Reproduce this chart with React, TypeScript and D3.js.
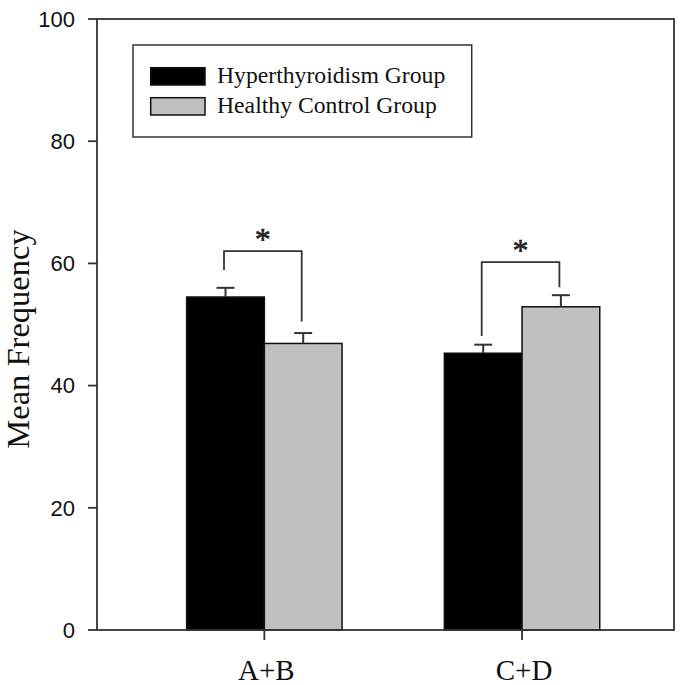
import React from "react";
import * as d3 from "d3";

const categories = ["A+B", "C+D"];
const seriesNames = ["Hyperthyroidism Group", "Healthy Control Group"];
const hyperMeans = [54.5, 45.3];
const hyperErrTop = [56.0, 46.7];
const controlMeans = [46.9, 52.9];
const controlErrTop = [48.6, 54.8];
const yTicks = [0, 20, 40, 60, 80, 100];
const bracketTop = [62.0, 60.2];
const bracketLeftFoot = [58.9, 48.1];
const bracketRightFoot = [50.5, 56.1];
const sigLabels = ["*", "*"];

const W = 682;
const H = 685;
const left = 97;
const right = 674;
const top = 19;
const bottom = 630;
const colors = ["#000000", "#c0c0c0"];

export default function App() {
  const y = d3.scaleLinear().domain([0, 100]).range([bottom, top]);
  const x = d3
    .scaleBand<string>()
    .domain(categories)
    .range([left, right])
    .paddingInner(0.397)
    .paddingOuter(0.318)
    .align(0.547);
  const xs = d3.scaleBand<string>().domain(seriesNames).range([0, x.bandwidth()]);
  const means = [hyperMeans, controlMeans];
  const errs = [hyperErrTop, controlErrTop];
  const serif = "'Liberation Serif', 'Times New Roman', serif";
  const sans = "'Liberation Sans', Arial, sans-serif";
  const stroke = "#333";

  return (
    <svg
      width={W}
      height={H}
      style={{ position: "absolute", left: 0, top: 0, background: "#fff" }}
    >
      <rect x={0} y={0} width={W} height={H} fill="#fff" />
      {/* bars */}
      {categories.map((c, ci) =>
        seriesNames.map((s, si) => {
          const x0 = (x(c) as number) + (xs(s) as number);
          const v = means[si][ci];
          return (
            <rect
              key={c + s}
              x={x0}
              y={y(v)}
              width={xs.bandwidth()}
              height={y(0) - y(v)}
              fill={colors[si]}
              stroke="#111"
              strokeWidth={1.5}
            />
          );
        })
      )}
      {/* error bars */}
      {categories.map((c, ci) =>
        seriesNames.map((s, si) => {
          const cx = (x(c) as number) + (xs(s) as number) + xs.bandwidth() / 2;
          const v = means[si][ci];
          const e = errs[si][ci];
          return (
            <g key={"e" + c + s} stroke={stroke} strokeWidth={2}>
              <line x1={cx} x2={cx} y1={y(v)} y2={y(e)} />
              <line x1={cx - 9} x2={cx + 9} y1={y(e)} y2={y(e)} />
            </g>
          );
        })
      )}
      {/* significance brackets */}
      {categories.map((c, ci) => {
        const cx0 = (x(c) as number) + (xs(seriesNames[0]) as number) + xs.bandwidth() / 2 - 1.5;
        const cx1 = (x(c) as number) + (xs(seriesNames[1]) as number) + xs.bandwidth() / 2 - 1.5;
        const yt = y(bracketTop[ci]);
        return (
          <g key={"b" + c}>
            <path
              d={`M${cx0},${y(bracketLeftFoot[ci])}V${yt}H${cx1}V${y(bracketRightFoot[ci])}`}
              fill="none"
              stroke={stroke}
              strokeWidth={1.8}
            />
            <text
              x={(cx0 + cx1) / 2}
              y={yt - 1}
              textAnchor="middle"
              fontFamily={serif}
              fontSize={32}
              fill="#222"
              stroke="#222"
              strokeWidth={0.6}
            >
              {sigLabels[ci]}
            </text>
          </g>
        );
      })}
      {/* frame */}
      <rect
        x={left}
        y={top}
        width={right - left}
        height={bottom - top}
        fill="none"
        stroke={stroke}
        strokeWidth={1.8}
      />
      {/* y ticks */}
      {yTicks.map((t) => (
        <g key={"yt" + t}>
          <line x1={left - 9} x2={left} y1={y(t)} y2={y(t)} stroke={stroke} strokeWidth={1.8} />
          <text
            x={75}
            y={y(t)}
            dy="0.35em"
            textAnchor="end"
            fontFamily={sans}
            fontSize={22}
            fill="#111"
          >
            {t}
          </text>
        </g>
      ))}
      {/* x ticks */}
      {categories.map((c) => {
        const cx = (x(c) as number) + x.bandwidth() / 2;
        return (
          <g key={"xt" + c}>
            <line x1={cx} x2={cx} y1={bottom} y2={bottom + 10} stroke={stroke} strokeWidth={1.8} />
            <text
              x={cx + 2}
              y={680}
              textAnchor="middle"
              fontFamily={serif}
              fontSize={29}
              fill="#111"
            >
              {c}
            </text>
          </g>
        );
      })}
      {/* y label */}
      <text
        transform={`translate(29,339) rotate(-90)`}
        textAnchor="middle"
        fontFamily={serif}
        fontSize={32.5}
        fill="#111"
      >
        Mean Frequency
      </text>
      {/* legend */}
      <rect x={133} y={45} width={338.7} height={92} fill="#fff" stroke={stroke} strokeWidth={1.5} />
      {seriesNames.map((s, i) => (
        <g key={"lg" + s}>
          <rect
            x={150.7}
            y={67.7 + i * 30}
            width={54.3}
            height={17.3}
            fill={colors[i]}
            stroke="#111"
            strokeWidth={1.5}
          />
          <text x={217} y={83.3 + i * 30} fontFamily={serif} fontSize={23.7} fill="#111">
            {s}
          </text>
        </g>
      ))}
    </svg>
  );
}
